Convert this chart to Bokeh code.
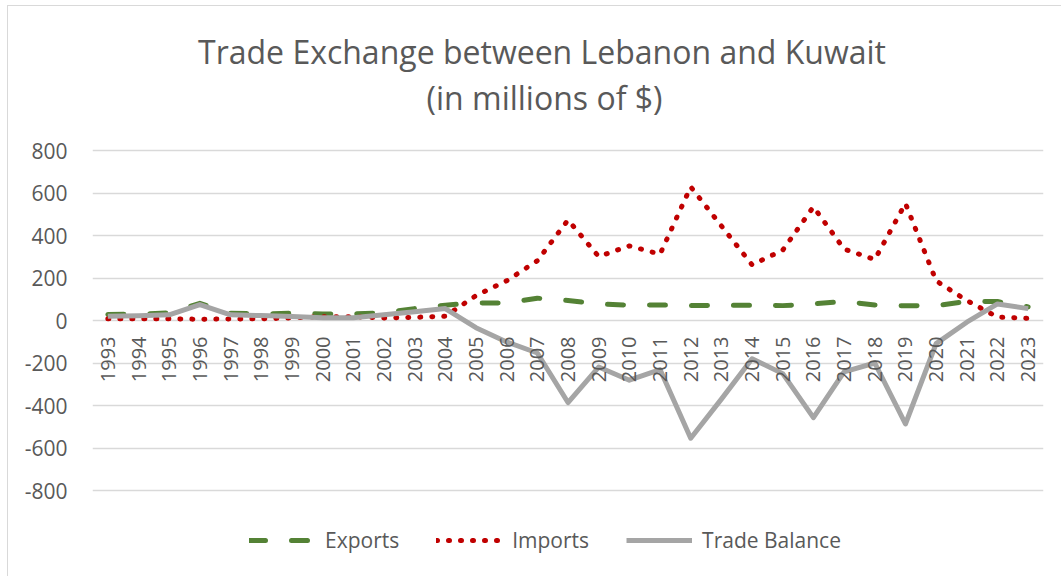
import math
from bokeh.plotting import figure
from bokeh.models import ColumnDataSource, FactorRange, Range1d, FixedTicker, Label, Legend, LegendItem
from bokeh.core.properties import value
from bokeh.embed import file_html
from bokeh.resources import INLINE

years = ["1993", "1994", "1995", "1996", "1997", "1998", "1999", "2000", "2001", "2002",
         "2003", "2004", "2005", "2006", "2007", "2008", "2009", "2010", "2011", "2012",
         "2013", "2014", "2015", "2016", "2017", "2018", "2019", "2020", "2021", "2022", "2023"]
exports = [28, 30, 36, 81, 34, 31, 34, 31, 31, 36, 56, 72, 83, 82, 105, 94, 78, 72, 73, 70,
           72, 72, 70, 78, 90, 73, 69, 70, 90, 89, 64]
imports = [8, 8, 8, 6, 7, 8, 12, 18, 18, 12, 15, 20, 117, 187, 281, 473, 301, 351, 312, 629,
           445, 262, 331, 535, 336, 287, 551, 187, 94, 16, 10]
balance = [20, 22, 27, 75, 27, 23, 19, 13, 13, 27, 41, 56, -34, -101, -153, -386, -219, -281, -231, -554,
           -370, -180, -250, -457, -242, -200, -487, -109, -8, 78, 56]
y_ticks = [-800, -600, -400, -200, 0, 200, 400, 600, 800]
y_tick_labels = ["-800", "-600", "-400", "-200", "0", "200", "400", "600", "800"]
title_line1 = "Trade Exchange between Lebanon and Kuwait"
title_line2 = "(in millions of $)"

TXT = "#595959"
FONT = "Open Sans"

# 1600 value units span 340 px; the frame is extended above and below
# so the title and legend can sit inside it without being clipped
PX_PER_UNIT = 340 / 1600
Y_TOP = 800 + 144 / PX_PER_UNIT
Y_BOTTOM = -800 - 87 / PX_PER_UNIT

p = figure(width=1054, height=571,
           x_range=FactorRange(*years, range_padding=0),
           y_range=Range1d(Y_BOTTOM, Y_TOP),
           output_backend="svg", toolbar_location=None,
           min_border_left=84, min_border_right=19, min_border_top=0, min_border_bottom=0)
p.styles = {"margin-left": "7px", "margin-top": "5px",
            "border-left": "1px solid #D9D9D9", "border-top": "1px solid #D9D9D9"}
p.outline_line_color = None
p.background_fill_color = "white"
p.border_fill_color = "white"

p.xaxis.visible = False
p.xgrid.visible = False
p.ygrid.grid_line_color = "#D9D9D9"
p.ygrid.grid_line_width = 1.5
p.yaxis.ticker = FixedTicker(ticks=y_ticks)
p.ygrid.ticker = FixedTicker(ticks=y_ticks)
p.yaxis.major_label_overrides = {t: l for t, l in zip(y_ticks, y_tick_labels)}
p.yaxis.axis_line_color = None
p.yaxis.major_tick_line_color = None
p.yaxis.minor_tick_line_color = None
p.yaxis.major_label_standoff = 19
p.yaxis.major_label_text_font = FONT
p.yaxis.major_label_text_font_size = "21px"
p.yaxis.major_label_text_color = TXT

src = ColumnDataSource(dict(year=years, exports=exports, imports=imports, balance=balance,
                            zero=[0] * len(years)))

r_exp = p.line("year", "exports", source=src, line_color="#548235", line_width=5,
               line_dash="16 26", line_cap="round", line_join="round")
r_imp = p.line("year", "imports", source=src, line_color="#C00000", line_width=5,
               line_dash="1 11", line_cap="round", line_join="round")
r_bal = p.line("year", "balance", source=src, line_color="#A5A5A5", line_width=5,
               line_join="round")

p.text(x="year", y="zero", text="year", source=src, angle=math.pi / 2,
       text_align="right", text_baseline="middle", y_offset=16,
       text_font=value(FONT), text_font_size="20px", text_color=TXT)

for txt, sx, sy in ((title_line1, 449.5, 526.3), (title_line2, 452, 480.3)):
    p.add_layout(Label(text=txt, x=sx, y=sy, x_units="screen", y_units="screen",
                       text_align="center", text_baseline="alphabetic",
                       text_font=FONT, text_font_size="32px", text_color=TXT))

legend = Legend(items=[LegendItem(label="Exports", renderers=[r_exp]),
                       LegendItem(label="Imports", renderers=[r_imp]),
                       LegendItem(label="Trade Balance", renderers=[r_bal])],
                orientation="horizontal", location=(157, 23),
                glyph_width=66, glyph_height=20, label_standoff=10, spacing=37,
                padding=0, margin=0, border_line_color=None, background_fill_alpha=0,
                label_text_font=FONT, label_text_font_size="21px", label_text_color=TXT)
p.add_layout(legend, "center")

open("out.html", "w").write(file_html(p, INLINE))
